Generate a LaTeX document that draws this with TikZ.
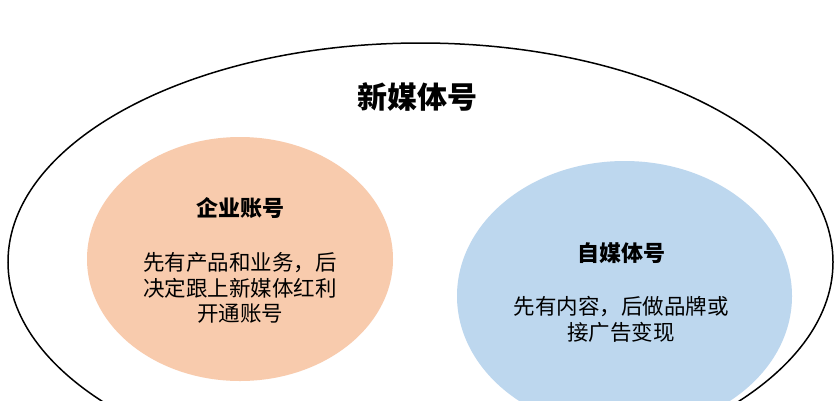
\documentclass[tikz,border=0pt]{standalone}
\usepackage{fontspec}
\setmainfont{Noto Sans CJK SC}
\usetikzlibrary{shapes.geometric}
\definecolor{orangefill}{HTML}{F8CBAD}
\definecolor{bluefill}{HTML}{BDD7EE}
\tikzset{
  blob/.style={ellipse, inner sep=0pt, outer sep=0pt},
  headtext/.style={font=\fontsize{22}{26}\selectfont\bfseries, inner sep=0pt},
  bodytext/.style={font=\fontsize{21.5}{25.5}\selectfont, align=center, inner sep=0pt},
}
\begin{document}
\begin{tikzpicture}[x=1pt,y=-1pt]
\useasboundingbox (0,0) rectangle (840,400);
\clip (0,0) rectangle (840,400);
\fill[white] (0,0) rectangle (840,400);
\node[blob, draw=black, line width=1.5pt, minimum width=825pt, minimum height=438pt] (outer) at (420.5,262) {};
\node[blob, fill=orangefill, minimum width=306pt, minimum height=244pt] (qiye) at (240,259) {};
\node[blob, fill=bluefill, minimum width=335pt, minimum height=270pt] (zimeiti) at (624.5,296) {};
\node[font=\fontsize{30}{34}\selectfont\bfseries, inner sep=0pt] (title) at (417,97.5) {新媒体号};
\node[headtext] (qiyehead) at (240,208) {企业账号};
\node[bodytext] (qiyebody) at (240,288) {先有产品和业务，后\\决定跟上新媒体红利\\开通账号};
\node[headtext] (zihead) at (621,253) {自媒体号};
\node[bodytext] (zibody) at (621,319.5) {先有内容，后做品牌或\\接广告变现};
\end{tikzpicture}
\end{document}
